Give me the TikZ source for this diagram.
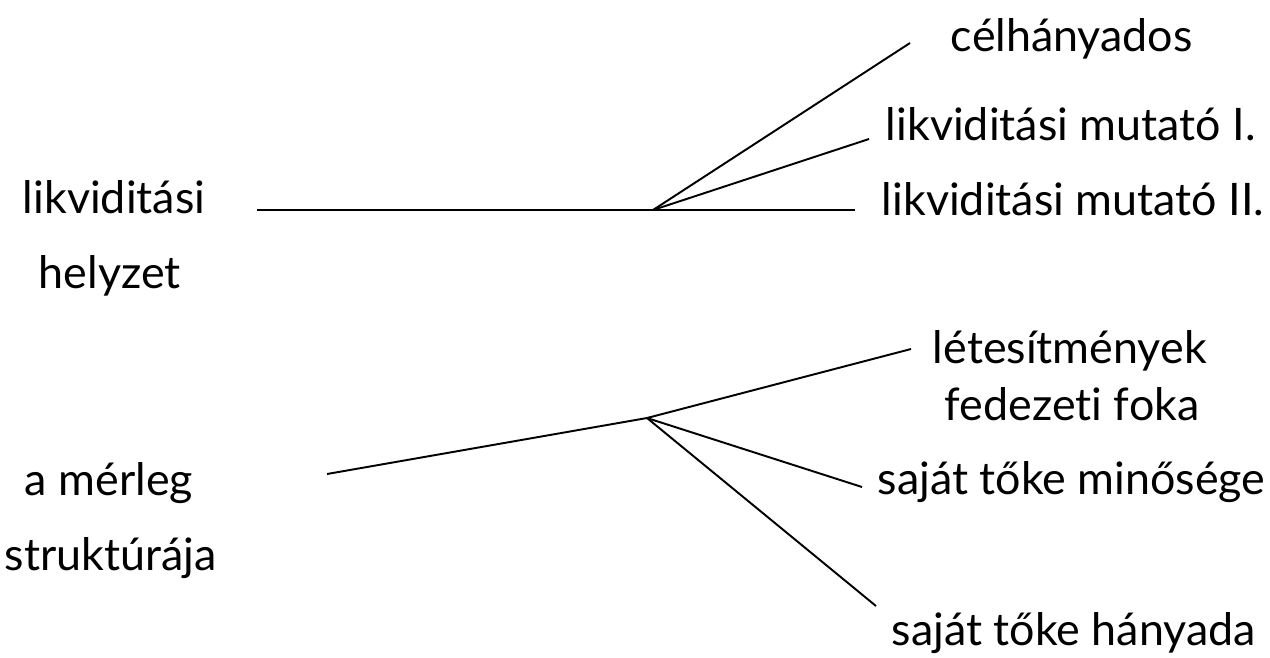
\documentclass[tikz,border=0pt]{standalone}
\usepackage{fontspec}
\setmainfont[Ligatures=NoCommon]{Lato}
\begin{document}
\begin{tikzpicture}[x=0.02cm,y=-0.02cm,line width=1.1pt,
  font=\fontsize{25.5}{30}\selectfont,
  lbl/.style={anchor=base west,inner sep=0pt}]
	\useasboundingbox (0,0) rectangle (1270,657);

	%left labels
	\node[lbl] (liq1) at (22,213) {likviditási};
	\node[lbl] (liq2) at (38,288) {helyzet};
	\node[lbl] (bal1) at (24,495) {a mérleg};
	\node[lbl] (bal2) at (4,570) {struktúrája};

	%right labels
	\node[lbl] (celh) at (950,51) {célhányados};
	\node[lbl] (mut1) at (885,140) {likviditási mutató I.};
	\node[lbl] (mut2) at (881,215) {likviditási mutató II.};
	\node[lbl] (letes) at (932,363) {létesítmények};
	\node[lbl] (fedez) at (944,420) {fedezeti foka};
	\node[lbl] (minos) at (877,494) {saját tőke minősége};
	\node[lbl] (hanyad) at (891,645) {saját tőke hányada};

	%branch points and line ends
	\coordinate (liqfork) at (653,210);
	\coordinate (liqstart) at (257,210);
	\coordinate (liqend) at (855,210);
	\coordinate (celend) at (910,43);
	\coordinate (mut1end) at (869,139);
	\coordinate (balfork) at (647,418);
	\coordinate (balstart) at (327,474);
	\coordinate (letend) at (911,349);
	\coordinate (minend) at (862,487);
	\coordinate (hanend) at (876,606);

	%lines
	\draw (liqstart) -- (liqend); %likviditasi helyzet
	\draw (liqfork) -- (celend);
	\draw (liqfork) -- (mut1end);
	\draw (balstart) -- (balfork) -- (letend); %merleg struktura
	\draw (balfork) -- (minend);
	\draw (balfork) -- (hanend);
\end{tikzpicture}
\end{document}
